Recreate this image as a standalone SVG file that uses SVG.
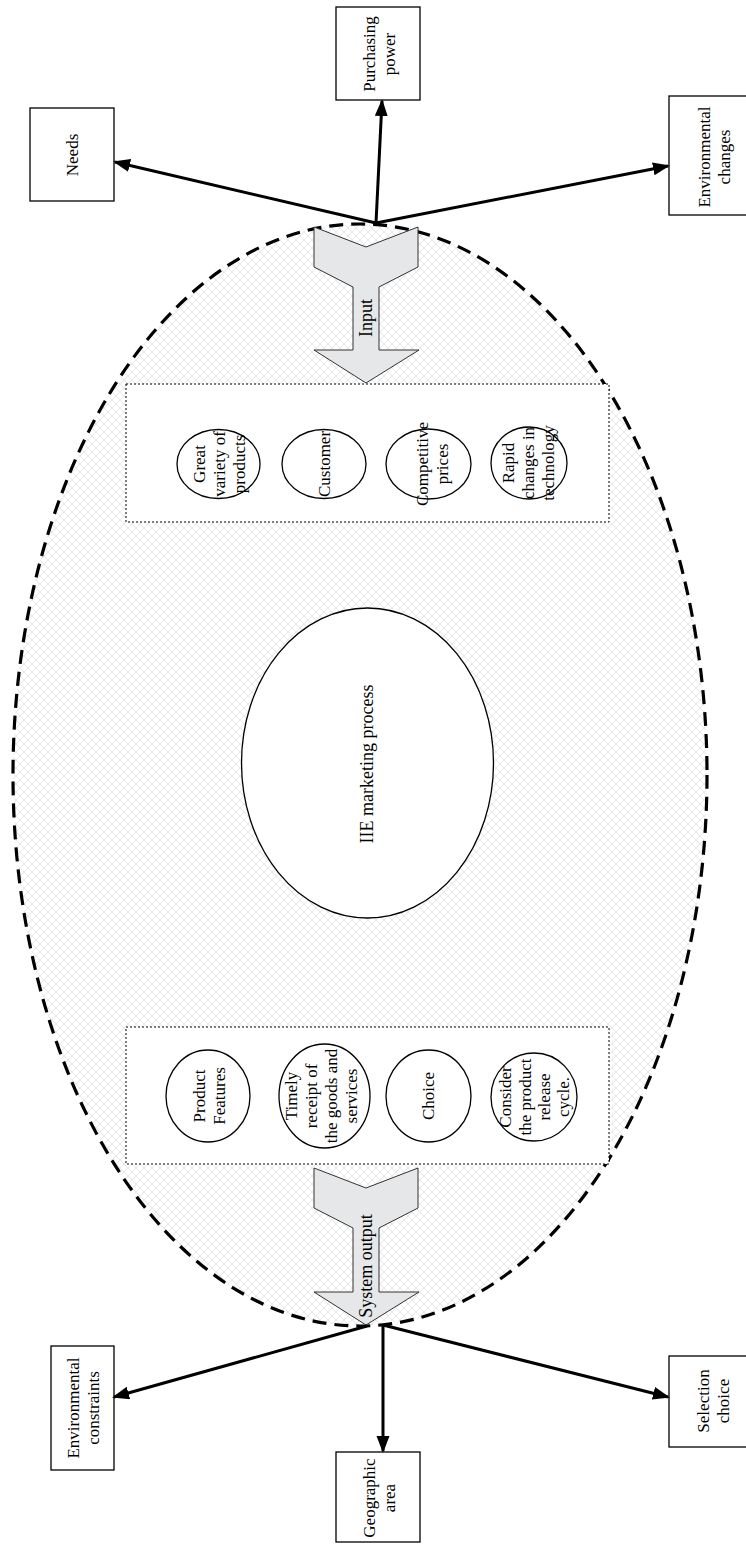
<svg xmlns="http://www.w3.org/2000/svg" width="746" height="1544" viewBox="0 0 746 1544">
<defs>
<pattern id="hatch" width="8" height="8" patternUnits="userSpaceOnUse">
<rect width="8" height="8" fill="#ffffff"/>
<path d="M0,0 L8,8 M8,0 L0,8" stroke="#e8e8e8" stroke-width="1" fill="none"/>
</pattern>
<marker id="ah" markerWidth="18" markerHeight="14" refX="15" refY="6.5" orient="auto" markerUnits="userSpaceOnUse">
<path d="M0,0 L17,6.5 L0,13 z" fill="#000"/>
</marker>
<style>
.box{fill:#fff;stroke:#000;stroke-width:1.3}
.circ{fill:#fff;stroke:#000;stroke-width:1.3}
.dot{fill:#fff;stroke:#000;stroke-width:1;stroke-dasharray:2,2}
.big{fill:url(#hatch);stroke:#000;stroke-width:3.2;stroke-dasharray:14,8}
.arr{fill:#e6e7e9;stroke:#333;stroke-width:1}
.conn{stroke:#000;stroke-width:3;fill:none;marker-end:url(#ah)}
text{font-family:"Liberation Serif",serif;font-size:18px;fill:#000;text-anchor:middle;dominant-baseline:central}
.bt{font-size:17px}
.ct{font-size:17px}
</style>
</defs>
<rect width="746" height="1544" fill="#fff"/>
<g id="system">
<ellipse class="big" cx="360" cy="775" rx="347" ry="551"/>
</g>
<g id="input-box">
<rect class="dot" x="126" y="384" width="483" height="138"/>
</g>
<g id="output-box">
<rect class="dot" x="126" y="1027" width="483" height="137"/>
</g>
<g id="great-variety">
<ellipse class="circ" cx="218.5" cy="464" rx="41.5" ry="34.5"/>
<text class="ct" transform="translate(219,464) rotate(-90)"><tspan x="0" y="-20">Great</tspan><tspan x="0" y="0">variety of</tspan><tspan x="0" y="20">products</tspan></text>
</g>
<g id="customer">
<ellipse class="circ" cx="324" cy="464" rx="42" ry="34.5"/>
<text class="ct" transform="translate(324,464) rotate(-90)">Customer</text>
</g>
<g id="competitive">
<ellipse class="circ" cx="428.5" cy="464" rx="42.5" ry="35"/>
<text class="ct" transform="translate(432,464) rotate(-90)"><tspan x="0" y="-10">Competitive</tspan><tspan x="0" y="10">prices</tspan></text>
</g>
<g id="rapid">
<ellipse class="circ" cx="529" cy="463" rx="38" ry="36"/>
<text class="ct" transform="translate(528,463) rotate(-90)"><tspan x="0" y="-20">Rapid</tspan><tspan x="0" y="0">changes in</tspan><tspan x="0" y="20">technology</tspan></text>
</g>
<g id="process">
<ellipse class="circ" cx="367.5" cy="763" rx="126" ry="155"/>
<text transform="translate(367,764) rotate(-90)">IIE marketing process</text>
</g>
<g id="product-features">
<ellipse class="circ" cx="208" cy="1096" rx="42" ry="46"/>
<text class="ct" transform="translate(209,1096) rotate(-90)"><tspan x="0" y="-10">Product</tspan><tspan x="0" y="10">Features</tspan></text>
</g>
<g id="timely">
<ellipse class="circ" cx="324.5" cy="1096" rx="45.5" ry="52"/>
<text class="ct" transform="translate(321,1096) rotate(-90)"><tspan x="0" y="-30">Timely</tspan><tspan x="0" y="-10">receipt of</tspan><tspan x="0" y="10">the goods and</tspan><tspan x="0" y="30">services</tspan></text>
</g>
<g id="choice">
<ellipse class="circ" cx="428.5" cy="1096" rx="42.5" ry="46"/>
<text class="ct" transform="translate(428,1096) rotate(-90)">Choice</text>
</g>
<g id="consider">
<ellipse class="circ" cx="534" cy="1097" rx="43" ry="44"/>
<text class="ct" transform="translate(534,1097) rotate(-90)"><tspan x="0" y="-29">Consider</tspan><tspan x="0" y="-9.5">the product</tspan><tspan x="0" y="9.5">release</tspan><tspan x="0" y="29">cycle.</tspan></text>
</g>
<g id="input-arrow">
<polygon class="arr" points="314,227 366,247 418,227 418,267 379,287 379,350 419,350 366,383 314,350 353,350 353,287 314,267"/>
<text transform="translate(366,318) rotate(-90)">Input</text>
</g>
<g id="output-arrow">
<polygon class="arr" points="314,1168 366,1188 418,1168 418,1208 379,1228 379,1292 419,1292 366,1325 314,1292 353,1292 353,1228 314,1208"/>
<text transform="translate(366,1266) rotate(-90)">System output</text>
</g>
<g id="needs">
<rect class="box" x="30" y="108" width="84" height="93"/>
<text class="bt" transform="translate(72,155) rotate(-90)">Needs</text>
</g>
<g id="purchasing-power">
<rect class="box" x="336" y="7" width="84" height="93"/>
<text class="bt" transform="translate(379,54) rotate(-90)"><tspan x="0" y="-10">Purchasing</tspan><tspan x="0" y="10">power</tspan></text>
</g>
<g id="environmental-changes">
<rect class="box" x="669" y="96" width="90" height="119"/>
<text class="bt" transform="translate(714,157) rotate(-90)"><tspan x="0" y="-10">Environmental</tspan><tspan x="0" y="10">changes</tspan></text>
</g>
<g id="environmental-constraints">
<rect class="box" x="51" y="1346" width="63" height="124"/>
<text class="bt" transform="translate(83,1408) rotate(-90)"><tspan x="0" y="-10">Environmental</tspan><tspan x="0" y="10">constraints</tspan></text>
</g>
<g id="geographic-area">
<rect class="box" x="336" y="1452" width="84" height="90"/>
<text class="bt" transform="translate(379,1498) rotate(-90)"><tspan x="0" y="-10">Geographic</tspan><tspan x="0" y="10">area</tspan></text>
</g>
<g id="selection-choice">
<rect class="box" x="669" y="1356" width="90" height="91"/>
<text class="bt" transform="translate(713,1401) rotate(-90)"><tspan x="0" y="-10">Selection</tspan><tspan x="0" y="10">choice</tspan></text>
</g>
<g id="connectors">
<line class="conn" x1="376" y1="223" x2="115" y2="162"/>
<line class="conn" x1="376" y1="223" x2="382" y2="101"/>
<line class="conn" x1="376" y1="223" x2="668" y2="166"/>
<line class="conn" x1="367" y1="1326" x2="114" y2="1397"/>
<line class="conn" x1="383" y1="1325" x2="383" y2="1451"/>
<line class="conn" x1="383" y1="1325" x2="668" y2="1397"/>
</g>
</svg>
